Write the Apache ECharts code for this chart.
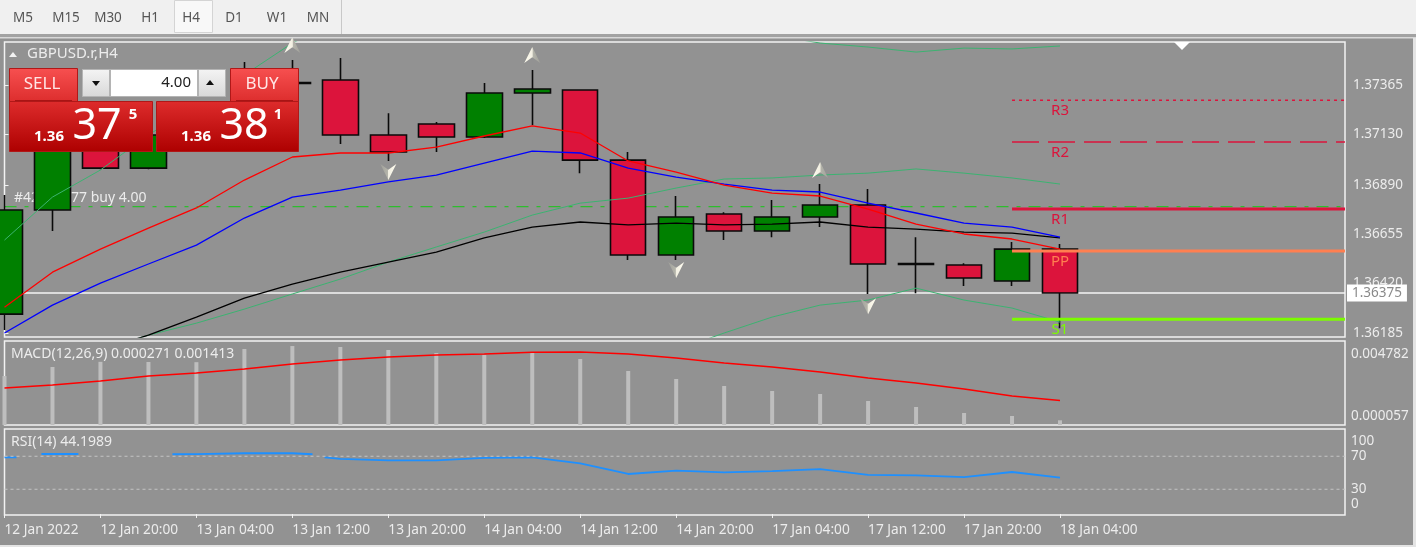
<!DOCTYPE html>
<html>
<head>
<meta charset="utf-8">
<title>GBPUSD.r,H4</title>
<script src="https://cdn.jsdelivr.net/npm/echarts@6/dist/echarts.min.js"></script>
<style>
html, body { margin: 0; padding: 0; background: #929292; }
#chart { width: 1416px; height: 547px; }
</style>
</head>
<body>
<div id="chart"></div>
<script>
// 8 hour labels, one every second H4 bar
const timeLabels = ['12 Jan 2022', '12 Jan 20:00', '13 Jan 04:00', '13 Jan 12:00', '13 Jan 20:00', '14 Jan 04:00',
    '14 Jan 12:00', '14 Jan 20:00', '17 Jan 04:00', '17 Jan 12:00', '17 Jan 20:00', '18 Jan 04:00'];
const timeTicks = [0, 2, 4, 6, 8, 10, 12, 14, 16, 18, 20, 22];
const priceTicks = [1.36185, 1.36420, 1.36655, 1.36890, 1.37130, 1.37365];

const opens = [1.36274, 1.36770, 1.37128, 1.36970, 1.37128, 1.37199, 1.37378, 1.37390, 1.37128, 1.37180, 1.37118, 1.37328,
    1.37342, 1.37008, 1.36556, 1.36751, 1.36670, 1.36737, 1.36794, 1.36515, 1.36508, 1.36432, 1.36584];
const closes = [1.36770, 1.37175, 1.36970, 1.37128, 1.37294, 1.37366, 1.37374, 1.37128, 1.37047, 1.37118, 1.37328, 1.37347,
    1.37008, 1.36556, 1.36737, 1.36670, 1.36737, 1.36794, 1.36513, 1.36511, 1.36446, 1.36584, 1.36375];
const lows = [1.36198, 1.36670, 1.36965, 1.36965, 1.37080, 1.37151, 1.37294, 1.37085, 1.37004, 1.37047, 1.37113, 1.37175,
    1.36946, 1.36532, 1.36532, 1.36627, 1.36641, 1.36689, 1.36370, 1.36374, 1.36408, 1.36408, 1.36207];
const highs = [1.36842, 1.37247, 1.37199, 1.37175, 1.37342, 1.37476, 1.37485, 1.37495, 1.37232, 1.37190, 1.37376, 1.37438,
    1.37342, 1.37047, 1.36837, 1.36760, 1.36818, 1.36894, 1.36870, 1.36641, 1.36517, 1.36618, 1.36608];

const maRed = [1.36307, 1.36474, 1.36584, 1.36684, 1.36780, 1.36913, 1.37023, 1.37042, 1.37042, 1.37070, 1.37123, 1.37171,
    1.37137, 1.37004, 1.36951, 1.36889, 1.36851, 1.36837, 1.36775, 1.36703, 1.36656, 1.36632, 1.36584];
const maBlue = [1.36184, 1.36317, 1.36422, 1.36513, 1.36603, 1.36732, 1.36832, 1.36865, 1.36904, 1.36937, 1.36994, 1.37051,
    1.37042, 1.36970, 1.36927, 1.36894, 1.36865, 1.36856, 1.36803, 1.36756, 1.36708, 1.36689, 1.36641];
const maBlack = [null, null, 1.36103, 1.36174, 1.36260, 1.36350, 1.36417, 1.36474, 1.36522, 1.36570, 1.36637, 1.36689,
    1.36713, 1.36699, 1.36708, 1.36699, 1.36703, 1.36713, 1.36689, 1.36679, 1.36665, 1.36660, 1.36637];
const bandUpper = [1.36627, 1.36832, 1.36961, 1.37128, 1.37271, 1.37414, 1.37566, 1.37676, 1.37724, 1.37747, 1.37795, 1.37843,
    1.37819, 1.37771, 1.37700, 1.37652, 1.37604, 1.37566, 1.37547, 1.37523, 1.37542, 1.37538, 1.37552];
const bandMiddle = [null, null, 1.36103, 1.36174, 1.36231, 1.36298, 1.36370, 1.36441, 1.36522, 1.36594, 1.36665, 1.36746,
    1.36803, 1.36827, 1.36875, 1.36918, 1.36923, 1.36937, 1.36946, 1.36966, 1.36946, 1.36923, 1.36894];
const bandLower = [null, null, null, null, null, null, null, null, null, null, null, null, null, null,
    1.36103, 1.36184, 1.36260, 1.36317, 1.36341, 1.36398, 1.36341, 1.36303, 1.36236];

const fractalsUp = [[6, 1.37557], [11, 1.37509], [17, 1.36961]];
const fractalsDown = [[8, 1.36951], [14, 1.36484], [18, 1.36312]];

const levelNames = ['R3', 'R2', 'R1', 'PP', 'S1'];
const levelValues = [1.37293, 1.37094, 1.36775, 1.36575, 1.36250];
const levelColors = ['#DC143C', '#DC143C', '#DC143C', '#FF7F50', '#7CFC00'];

const bidPrice = 1.36375;
const tradePrice = 1.36786;

const macdBars = [0.002822, 0.003341, 0.00364, 0.00363, 0.00362, 0.004378, 0.00455, 0.004493, 0.00432, 0.004147, 0.004032, 0.004147,
    0.003802, 0.00311, 0.00265, 0.002246, 0.001958, 0.001786, 0.001382, 0.001037, 0.000691, 0.000518, 0.000271];
const macdSignal = [0.002131, 0.002304, 0.002534, 0.002822, 0.002995, 0.003226, 0.003514, 0.003744, 0.003917, 0.004032, 0.00409, 0.004188,
    0.004205, 0.00409, 0.003859, 0.003571, 0.003341, 0.003053, 0.002707, 0.002419, 0.002074, 0.00167, 0.001413];
const macdTicks = [0.000057, 0.004782];

// the rsi line disappears where it runs on the 70 level, hence the gaps
const rsiX = [0, 0.25, 0.5, 0.77, 1.54, 2.5, 3.5, 4, 5, 6, 6.42, 6.55, 6.67, 7, 8, 9, 10, 11, 12, 13, 14, 15, 16, 17, 18, 19, 20, 21, 22];
const rsiValues = [68.7, 68.7, null, 72.7, 72.7, null, 72.4, 72.6, 73.6, 73.6, 72.4, null, 68.7, 66.7, 65, 65, 68, 68.7,
    61.4, 48.5, 52.5, 50.5, 52, 54.5, 47.3, 46.9, 44.8, 50.9, 44.2];
const rsiTicks = [0, 30, 70, 100];
const rsiLevels = [70, 30];

const timeframes = ['M5', 'M15', 'M30', 'H1', 'H4', 'D1', 'W1', 'MN'];
const timeframeX = [23, 66, 108, 150, 191, 234, 277, 318];

const FONT = 'Noto Sans';
const BG = '#929292';
const TEXT = '#ececec';
const X_MAX = 27.94;

const bars = opens.map((o, i) => i);
const pairs = arr => arr.map((v, i) => [i, v]);

function maLine(name, data, color, width, z) {
    return {
        name, type: 'line', data: pairs(data), showSymbol: false, silent: true,
        lineStyle: { color, width }, z, animation: false
    };
}

function flatLine(name, y, color, width, type, z, from, xi, yi) {
    return {
        name, type: 'line', xAxisIndex: xi || 0, yAxisIndex: yi || 0,
        data: [[from || 0, y], [X_MAX, y]], showSymbol: false, silent: true,
        lineStyle: { color, width, type }, z, animation: false
    };
}

const levelDash = [[3, 4], [27, 9], 'solid', 'solid', 'solid'];
const levelWidth = [1.5, 1.5, 3, 3, 3];

const arrowPath = 'path://M5,0 L10,14 L5,9 L0,14 Z';
const arrowFill = {
    type: 'linear', x: 0, y: 0, x2: 1, y2: 0,
    colorStops: [{ offset: 0, color: '#fffdf0' }, { offset: 0.5, color: '#f2efe2' }, { offset: 0.55, color: '#b4b4aa' }, { offset: 1, color: '#a0a09a' }]
};

const series = [
    flatLine('trade', tradePrice, '#2ebd2e', 1.2, [12, 8, 4, 8], 2),
    flatLine('bid', bidPrice, '#f4f4f4', 1.5, 'solid', 2),
    {
        name: 'GBPUSD', type: 'candlestick', z: 3, silent: true, animation: false, barWidth: 36,
        data: bars.map(i => [i, opens[i], closes[i], lows[i], highs[i]]),
        itemStyle: {
            color: '#008000', color0: '#DC143C', borderColor: '#0a0a0a', borderColor0: '#0a0a0a',
            borderColorDoji: '#0a0a0a', borderWidth: 1.6
        }
    },
    maLine('band upper', bandUpper, '#3CB371', 1, 4),
    maLine('band middle', bandMiddle, '#3CB371', 1, 4),
    maLine('band lower', bandLower, '#3CB371', 1, 4),
    maLine('ma slow', maBlack, '#000000', 1.3, 4),
    maLine('ma mid', maBlue, '#0000ff', 1.3, 4),
    maLine('ma fast', maRed, '#ff0000', 1.3, 4),
    {
        name: 'fractal up', type: 'scatter', data: fractalsUp, z: 6, silent: true, animation: false,
        symbol: arrowPath, symbolSize: [16, 16],
        itemStyle: { color: arrowFill, opacity: 1 }
    },
    {
        name: 'fractal down', type: 'scatter', data: fractalsDown, z: 6, silent: true, animation: false,
        symbol: arrowPath, symbolSize: [16, 16], symbolRotate: 180,
        itemStyle: { color: arrowFill, opacity: 1 }
    },
    {
        name: 'level labels', type: 'scatter', z: 7, silent: true, animation: false, symbolSize: 0,
        itemStyle: { opacity: 1 },
        data: levelNames.map((n, i) => ({
            value: [22, levelValues[i]],
            label: { formatter: n, color: levelColors[i] }
        })),
        label: { show: true, position: 'bottom', distance: 3, fontFamily: FONT, fontSize: 15 }
    },
    {
        name: 'bid label', type: 'scatter', z: 9, silent: true, animation: false, symbolSize: 0, clip: false,
        itemStyle: { opacity: 1 },
        data: [[X_MAX, bidPrice]],
        label: {
            show: true, position: 'right', distance: 2, color: '#8a8a8a', backgroundColor: '#ffffff',
            fontFamily: FONT, fontSize: 13.5, padding: [2, 5, 1, 5],
            formatter: () => bidPrice.toFixed(5)
        }
    },
    {
        name: 'macd', type: 'bar', xAxisIndex: 1, yAxisIndex: 1, data: pairs(macdBars), barWidth: 4, silent: true,
        animation: false, itemStyle: { color: '#bebebe' }, z: 3
    },
    {
        name: 'signal', type: 'line', xAxisIndex: 1, yAxisIndex: 1, data: pairs(macdSignal), showSymbol: false, silent: true,
        animation: false, lineStyle: { color: '#ff0000', width: 1.6 }, z: 4
    },
    {
        name: 'rsi', type: 'line', xAxisIndex: 2, yAxisIndex: 2, data: rsiX.map((x, i) => [x, rsiValues[i]]),
        showSymbol: false, silent: true, animation: false, lineStyle: { color: '#1E90FF', width: 1.8 }, z: 3
    }
];

levelNames.forEach((n, i) => {
    series.push(flatLine(n, levelValues[i], levelColors[i], levelWidth[i], levelDash[i], 5, 21));
});
rsiLevels.forEach(l => {
    series.push(flatLine('level ' + l, l, '#c4c4c4', 1.2, [3, 3], 4, 0, 2, 2));
});

function rect(x, y, w, h, fill, stroke, z) {
    return {
        type: 'rect', shape: { x, y, width: w, height: h }, silent: true, z: z || 10,
        style: { fill, stroke: stroke || null, lineWidth: stroke ? 1 : 0 }
    };
}

function label(x, y, text, fill, size, opts) {
    opts = opts || {};
    return {
        type: 'text', x, y, silent: true, z: opts.z || 11,
        style: {
            text, fill, fontFamily: FONT, fontSize: size, fontWeight: opts.weight || 'normal',
            align: opts.align || 'center', verticalAlign: 'middle'
        }
    };
}

function grad(a, b) {
    return { type: 'linear', x: 0, y: 0, x2: 0, y2: 1, colorStops: [{ offset: 0, color: a }, { offset: 1, color: b }] };
}

function tri(points, fill, z) {
    return { type: 'polygon', shape: { points }, silent: true, z: z || 11, style: { fill } };
}

const graphics = [
    // toolbar
    rect(0, 0, 1416, 34, '#f0f0f0', null, 12),
    rect(0, 34, 1416, 3, '#a2a2a2', null, 12),
    rect(0, 37, 1416, 1.5, '#d8d8d8', null, 12),
    rect(174.5, 0.5, 38, 32, '#f8f8f8', '#d4d4d4', 12),
    rect(341, 0, 1, 34, '#c8c8c8', null, 12),
    // bottom and right edge of the window
    rect(0, 545, 1416, 2, '#e4e4e4', null, 12),
    rect(1413, 38, 3, 509, '#e4e4e4', null, 12),
    // chart title and markers
    tri([[9, 57], [17, 57], [13, 52]], '#f2f2f2'),
    label(27, 54, 'GBPUSD.r,H4', TEXT, 15, { align: 'left' }),
    label(14, 198, '#42105677 buy 4.00', TEXT, 14, { align: 'left', z: 1 }),
    tri([[1174, 42], [1190, 42], [1182, 50]], '#ffffff'),
    // one click trading panel
    rect(76, 68, 156, 34, BG, null, 9),
    rect(9.5, 68.5, 68, 34, grad('#f75050', '#dc2c2c'), '#b01818'),
    rect(230.5, 68.5, 68, 34, grad('#f75050', '#dc2c2c'), '#b01818'),
    rect(15, 100, 57, 1, '#a81414'),
    rect(236, 100, 57, 1, '#a81414'),
    rect(9.5, 101.5, 143, 50, grad('#de2c2c', '#ad0000'), '#b01818'),
    rect(156.5, 101.5, 142, 50, grad('#de2c2c', '#ad0000'), '#b01818'),
    rect(82.5, 69.5, 27, 27, grad('#f4f4f4', '#d8d8d8'), '#b4b4b4'),
    rect(198.5, 69.5, 27, 27, grad('#f4f4f4', '#d8d8d8'), '#b4b4b4'),
    rect(110.5, 69.5, 87, 27, '#ffffff', '#b4b4b4'),
    tri([[92, 81], [100, 81], [96, 86]], '#111111'),
    tri([[206, 85], [214, 85], [210, 80]], '#111111'),
    label(191, 83, '4.00', '#222222', 15, { align: 'right' }),
    label(42, 84, 'SELL', '#ffe6e6', 17),
    label(262, 84, 'BUY', '#ffe6e6', 17),
    label(49, 137, '1.36', '#ffffff', 15, { weight: 'bold' }),
    label(97, 127, '37', '#ffffff', 43),
    label(133, 115, '5', '#ffffff', 15, { weight: 'bold' }),
    label(196, 137, '1.36', '#ffffff', 15, { weight: 'bold' }),
    label(244, 127, '38', '#ffffff', 43),
    label(278, 115, '1', '#ffffff', 15, { weight: 'bold' }),
    // indicator captions
    label(11, 354, 'MACD(12,26,9) 0.000271 0.001413', TEXT, 14, { align: 'left' }),
    label(11, 442, 'RSI(14) 44.1989', TEXT, 14, { align: 'left' })
];

timeframes.forEach((t, i) => {
    graphics.push(label(timeframeX[i], 18, t, '#555555', 13.5, { z: 13 }));
});

const hiddenAxis = { show: false };
const frame = { left: 4.5, width: 1340.5, show: true, borderColor: '#f2f2f2', borderWidth: 1.5, backgroundColor: 'transparent' };

const option = {
    backgroundColor: BG,
    animation: false,
    textStyle: { fontFamily: FONT },
    grid: [
        { ...frame, top: 42, height: 295 },
        { ...frame, top: 341, height: 84 },
        { ...frame, top: 429, height: 86 }
    ],
    xAxis: [
        { type: 'value', gridIndex: 0, min: 0, max: X_MAX, ...hiddenAxis },
        { type: 'value', gridIndex: 1, min: 0, max: X_MAX, ...hiddenAxis },
        {
            type: 'value', gridIndex: 2, min: 0, max: X_MAX, position: 'bottom',
            axisLine: { show: false },
            splitLine: { show: false },
            axisTick: { show: true, length: 4, customValues: timeTicks, lineStyle: { color: '#f2f2f2' } },
            axisLabel: {
                show: true, customValues: timeTicks, color: TEXT, fontFamily: FONT, fontSize: 13.7, margin: 8, align: 'left',
                formatter: v => timeLabels[timeTicks.indexOf(v)]
            }
        }
    ],
    yAxis: [
        {
            type: 'value', gridIndex: 0, position: 'right', min: 1.36165, max: 1.37571,
            axisLine: { show: false }, splitLine: { show: false },
            axisTick: { show: true, length: 4, customValues: priceTicks, lineStyle: { color: '#f2f2f2' } },
            axisLabel: {
                show: true, customValues: priceTicks, color: TEXT, fontFamily: FONT, fontSize: 13.5, margin: 8,
                formatter: v => v.toFixed(5)
            }
        },
        {
            type: 'value', gridIndex: 1, position: 'right', min: 0, max: 0.00484,
            axisLine: { show: false }, splitLine: { show: false }, axisTick: { show: false },
            axisLabel: {
                show: true, customValues: macdTicks, color: TEXT, fontFamily: FONT, fontSize: 13.5, margin: 6,
                verticalAlignMinLabel: 'bottom', verticalAlignMaxLabel: 'top', padding: [5, 0, 1, 0],
                formatter: v => v.toFixed(6)
            }
        },
        {
            type: 'value', gridIndex: 2, position: 'right', min: -1.2, max: 103,
            axisLine: { show: false }, splitLine: { show: false }, axisTick: { show: false },
            axisLabel: {
                show: true, customValues: rsiTicks, color: TEXT, fontFamily: FONT, fontSize: 13.5, margin: 6,
                verticalAlignMinLabel: 'bottom', verticalAlignMaxLabel: 'top', padding: [3, 0, 3, 0],
                formatter: v => String(v)
            }
        }
    ],
    graphic: graphics,
    series
};

const myChart = echarts.init(document.getElementById('chart'), null, { renderer: 'canvas' });
myChart.setOption(option);
window.addEventListener('resize', myChart.resize);
</script>
</body>
</html>
